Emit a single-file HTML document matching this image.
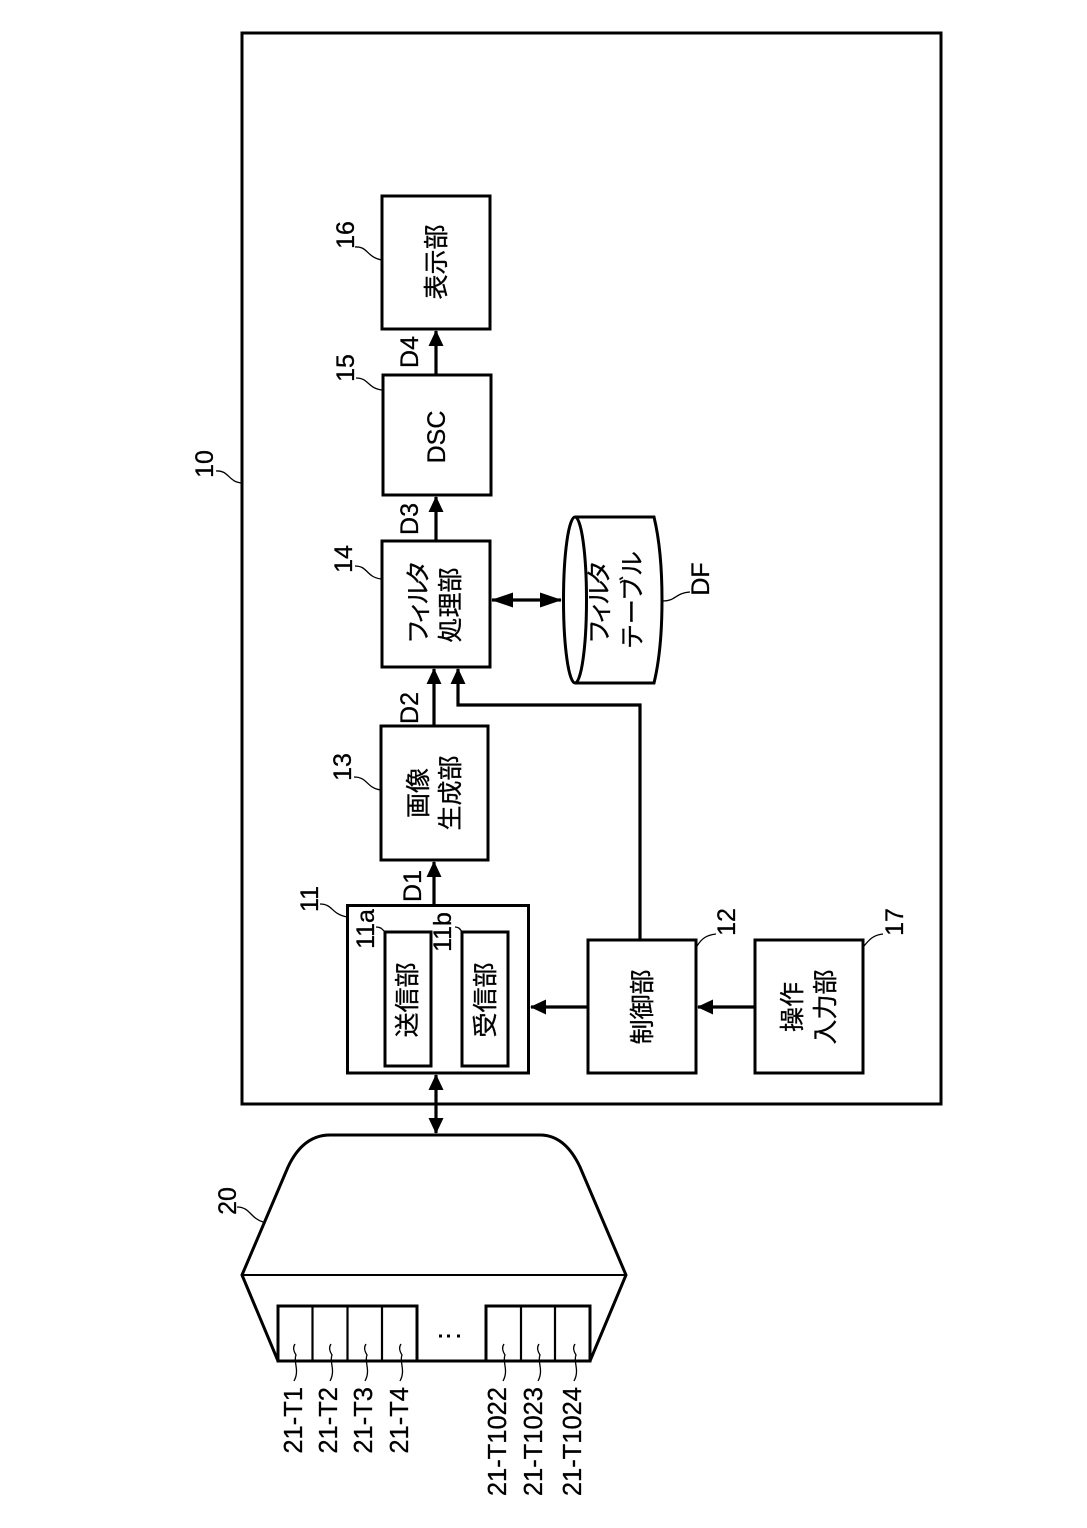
<!DOCTYPE html>
<html><head><meta charset="utf-8"><style>
html,body{margin:0;padding:0;background:#fff}
svg{display:block}
text{font-family:"Liberation Sans","Noto Sans CJK JP",sans-serif;fill:#000;stroke:#000;stroke-width:.3;text-anchor:middle}
.j{font-size:25px}
.l{font-size:25px}
.n{font-size:25.500px;text-anchor:end}
.b{fill:#fff;stroke:#000;stroke-width:3}
.w{fill:none;stroke:#000;stroke-width:1.300}
.c{fill:none;stroke:#000;stroke-width:3.200}
</style></head><body>
<svg width="1087" height="1528" viewBox="0 0 1087 1528" xmlns="http://www.w3.org/2000/svg">
<defs>
<marker id="a" markerUnits="userSpaceOnUse" markerWidth="18" markerHeight="18" refX="15" refY="9" orient="auto-start-reverse"><path d="M0,1.500 L16,9 L0,16.500 Z" fill="#000"/></marker>
<marker id="d" markerUnits="userSpaceOnUse" markerWidth="24" markerHeight="18" refX="21" refY="9" orient="auto-start-reverse"><path d="M0,1.500 L22,9 L0,16.500 Z" fill="#000"/></marker>
</defs>
<rect class="b" x="242" y="33" width="699" height="1071"/>
<rect class="b" x="382" y="196" width="108" height="133"/>
<rect class="b" x="383" y="375" width="108" height="120"/>
<rect class="b" x="382" y="541" width="108" height="126"/>
<rect class="b" x="381" y="726" width="107" height="134"/>
<rect class="b" x="347.500" y="905.500" width="181" height="167.500"/>
<rect class="b" x="385" y="932" width="46" height="134"/>
<rect class="b" x="462" y="932" width="46" height="134"/>
<rect class="b" x="588" y="940" width="108" height="133"/>
<rect class="b" x="755" y="940" width="108" height="133"/>

<path class="c" d="M434,905V862" marker-end="url(#a)"/>
<path class="c" d="M434,726V669" marker-end="url(#a)"/>
<path class="c" d="M436,541V497" marker-end="url(#a)"/>
<path class="c" d="M436,375V331" marker-end="url(#a)"/>
<path class="c" d="M640,940V705H458V669" marker-end="url(#a)"/>
<path class="c" d="M588,1007H531" marker-end="url(#a)"/>
<path class="c" d="M755,1007H698" marker-end="url(#a)"/>
<path class="c" d="M436,1075V1133" marker-start="url(#a)" marker-end="url(#a)"/>
<path class="c" d="M492,600H561" marker-start="url(#d)" marker-end="url(#d)"/>

<path class="b" d="M575,517H654Q662,550 662,600Q662,650 654,683H575"/>
<ellipse class="b" cx="575" cy="600" rx="11.500" ry="83"/>

<path class="b" d="M242,1275L288,1167Q303,1135 330,1135H540Q565,1135 580,1167L626,1275L590,1361H278Z"/>
<path d="M242,1275H626" stroke="#000" stroke-width="2" fill="none"/>
<rect class="b" x="278" y="1306" width="139" height="55"/>
<rect class="b" x="486" y="1306" width="104" height="55"/>
<path d="M312.500,1306V1361M347.500,1306V1361M382,1306V1361M521,1306V1361M555,1306V1361" stroke="#000" stroke-width="2.200" fill="none"/>
<path d="M439,1336h3M447,1336h3M457,1336h3" stroke="#000" stroke-width="3" fill="none"/>

<g class="w">
<path class="w" d="M355,247C368,246 366,257 382,260"/>
<path class="w" d="M356,378C369,378 367,388 382,390"/>
<path class="w" d="M355,566C368,566 366,577 381,579"/>
<path class="w" d="M354,777C368,777 366,788 381,790"/>
<path class="w" d="M320,904C333,904 331,914 347,917"/>
<path class="w" d="M376,927C381,927 382,929 385,932"/>
<path class="w" d="M455,927C459,927 460,929 462,932"/>
<path class="w" d="M697,946C702,938 707,935 716,934"/>
<path class="w" d="M864,946C869,940 873,935 883,934"/>
<path class="w" d="M237,1207C250,1207 250,1218 263,1222"/>
<path class="w" d="M663,601C676,601 675,593 690,592"/>
<path class="w" d="M216,471C229,470 228,482 242,483"/>
<path class="w" d="M294,1381C300,1370 293,1362 296,1355C293,1350 293,1347 295,1344"/>
<path class="w" d="M330,1381C336,1370 329,1362 332,1355C329,1350 329,1347 331,1344"/>
<path class="w" d="M365,1381C371,1370 364,1362 367,1355C364,1350 364,1347 366,1344"/>
<path class="w" d="M400,1381C406,1370 399,1362 402,1355C399,1350 399,1347 401,1344"/>
<path class="w" d="M503,1381C509,1370 502,1362 505,1355C502,1350 502,1347 504,1344"/>
<path class="w" d="M538,1381C544,1370 537,1362 540,1355C537,1350 537,1347 539,1344"/>
<path class="w" d="M574,1381C580,1370 573,1362 576,1355C573,1350 573,1347 575,1344"/>
</g>

<text class="j" transform="translate(445,262) rotate(-90)">表示部</text>
<text class="l" transform="translate(445,437) rotate(-90)">DSC</text>
<text class="j" textLength="84" transform="translate(427,602) rotate(-90)">フィルタ</text>
<text class="j" transform="translate(459,605) rotate(-90)">処理部</text>
<text class="j" textLength="84" transform="translate(608,602) rotate(-90)">フィルタ</text>
<text class="j" textLength="98" transform="translate(641,600) rotate(-90)">テーブル</text>
<text class="j" transform="translate(427,793) rotate(-90)">画像</text>
<text class="j" transform="translate(459,793) rotate(-90)">生成部</text>
<text class="j" transform="translate(416,1000) rotate(-90)">送信部</text>
<text class="j" transform="translate(494,1000) rotate(-90)">受信部</text>
<text class="j" transform="translate(651,1007) rotate(-90)">制御部</text>
<text class="j" transform="translate(801,1007) rotate(-90)">操作</text>
<text class="j" transform="translate(834,1007) rotate(-90)">入力部</text>

<text class="l" transform="translate(213,464) rotate(-90)">10</text>
<text class="l" transform="translate(354,235) rotate(-90)">16</text>
<text class="l" transform="translate(354,368) rotate(-90)">15</text>
<text class="l" transform="translate(352,559) rotate(-90)">14</text>
<text class="l" transform="translate(351,767) rotate(-90)">13</text>
<text class="l" transform="translate(318,899) rotate(-90)">11</text>
<text class="l" transform="translate(374,929) rotate(-90)">11a</text>
<text class="l" transform="translate(451,932) rotate(-90)">11b</text>
<text class="l" transform="translate(735,922) rotate(-90)">12</text>
<text class="l" transform="translate(903,922) rotate(-90)">17</text>
<text class="l" transform="translate(236,1201) rotate(-90)">20</text>
<text class="l" transform="translate(709,579) rotate(-90)">DF</text>
<text class="l" transform="translate(421,886) rotate(-90)">D1</text>
<text class="l" transform="translate(418,708) rotate(-90)">D2</text>
<text class="l" transform="translate(418,519) rotate(-90)">D3</text>
<text class="l" transform="translate(418,352) rotate(-90)">D4</text>

<text class="n" transform="translate(302,1387) rotate(-90)">21-T1</text>
<text class="n" transform="translate(337,1387) rotate(-90)">21-T2</text>
<text class="n" transform="translate(372,1387) rotate(-90)">21-T3</text>
<text class="n" transform="translate(408,1387) rotate(-90)">21-T4</text>
<text class="n" transform="translate(506,1387) rotate(-90)">21-T1022</text>
<text class="n" transform="translate(542,1387) rotate(-90)">21-T1023</text>
<text class="n" transform="translate(581,1387) rotate(-90)">21-T1024</text>
</svg>
</body></html>
